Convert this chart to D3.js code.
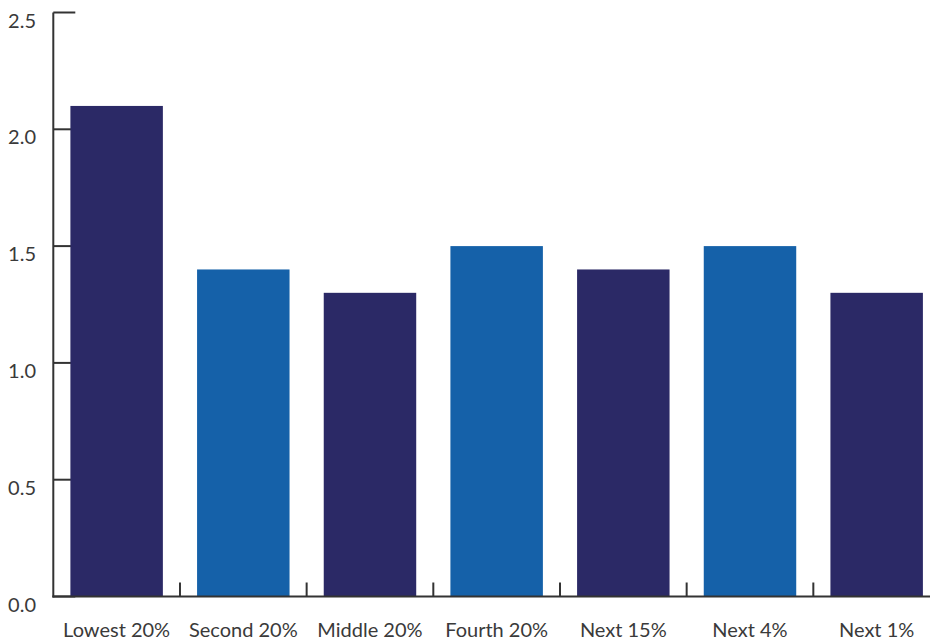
<!DOCTYPE html>
<html>
<head>
<meta charset="utf-8">
<script src="https://cdn.jsdelivr.net/npm/d3@7"></script>
<style>
  html, body { margin: 0; padding: 0; background: #fff; }
  svg { display: block; }
  text { font-family: Lato, "Noto Sans", sans-serif; fill: #3a3a3a; }
</style>
</head>
<body>
<svg id="chart" width="930" height="640"></svg>
<script>
const categories = ["Lowest 20%", "Second 20%", "Middle 20%", "Fourth 20%", "Next 15%", "Next 4%", "Next 1%"];
const values = [2.1, 1.4, 1.3, 1.5, 1.4, 1.5, 1.3];
const barColors = ["#2b2966", "#1561a9", "#2b2966", "#1561a9", "#2b2966", "#1561a9", "#2b2966"];
const yTicks = [0, 0.5, 1.0, 1.5, 2.0, 2.5];

const svg = d3.select("#chart");
const x0 = 53.3, x1 = 940, yTop = 12.5, yBottom = 596.5;

const x = d3.scaleBand().domain(categories).range([x0, x1]).paddingInner(0.27).paddingOuter(0.135);
const y = d3.scaleLinear().domain([0, 2.5]).range([yBottom, yTop]);

// y-axis ticks (drawn behind bars)
const yAxisG = svg.append("g");
yAxisG.selectAll("line.tick").data(yTicks).join("line")
  .attr("x1", x0).attr("x2", x0 + 22)
  .attr("y1", d => y(d)).attr("y2", d => y(d))
  .attr("stroke", "#333").attr("stroke-width", 2);
yAxisG.selectAll("text").data(yTicks).join("text")
  .attr("x", 36).attr("y", d => y(d) + 8)
  .attr("dy", "0.35em")
  .attr("text-anchor", "end")
  .attr("font-size", 20)
  .text(d => d3.format(".1f")(d));

// bars
svg.append("g").selectAll("rect").data(categories).join("rect")
  .attr("x", d => x(d))
  .attr("width", x.bandwidth())
  .attr("y", (d, i) => y(values[i]))
  .attr("height", (d, i) => y(0) - y(values[i]))
  .attr("fill", (d, i) => barColors[i]);

// y-axis line
svg.append("line")
  .attr("x1", x0).attr("x2", x0)
  .attr("y1", yTop).attr("y2", yBottom + 1)
  .attr("stroke", "#333").attr("stroke-width", 2);

// x-axis line
svg.append("line")
  .attr("x1", x0 - 1).attr("x2", x1)
  .attr("y1", yBottom).attr("y2", yBottom)
  .attr("stroke", "#333").attr("stroke-width", 2);

// x-axis boundary ticks between bands
const boundaries = categories.slice(1).map(c => x(c) - x.step() * x.paddingInner() / 2);
svg.append("g").selectAll("line").data(boundaries).join("line")
  .attr("x1", d => d).attr("x2", d => d)
  .attr("y1", yBottom - 14).attr("y2", yBottom)
  .attr("stroke", "#333").attr("stroke-width", 2);

// x labels
svg.append("g").selectAll("text").data(categories).join("text")
  .attr("x", d => x(d) + x.bandwidth() / 2)
  .attr("y", 637)
  .attr("text-anchor", "middle")
  .attr("font-size", 20)
  .text(d => d);
</script>
</body>
</html>
